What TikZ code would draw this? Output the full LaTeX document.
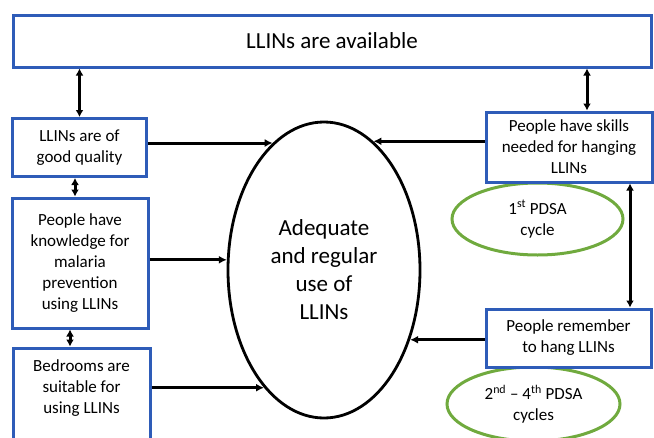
\documentclass[tikz,border=0pt]{standalone}
\usepackage{fontspec}
\setmainfont{Carlito}
\usetikzlibrary{arrows.meta,shapes.geometric}
\definecolor{boxblue}{RGB}{46,92,184}
\definecolor{pdsagreen}{RGB}{112,170,62}
\begin{document}
\begin{tikzpicture}[x=1pt,y=-1pt]
        \tikzstyle{box}=[draw=boxblue,line width=3pt,fill=white,align=center,inner sep=0pt,font=\fontsize{17}{21}\selectfont]
        \tikzstyle{boxtext}=[align=center,inner sep=0pt,font=\fontsize{17}{21}\selectfont]
        \tikzstyle{pdsa}=[ellipse,draw=pdsagreen,line width=3pt,align=center,inner sep=0pt,font=\fontsize{17}{21}\selectfont]
        \tikzstyle{arr}=[draw,line width=3pt,-{Latex[length=8pt,width=8pt]}]
        \tikzstyle{darr}=[draw,line width=3pt,{Latex[length=7pt,width=8pt]}-{Latex[length=7pt,width=8pt]}]
        \useasboundingbox (0,0) rectangle (654,437);
        \clip (0,0) rectangle (654,437);
        \begin{scope}
         \node [box,minimum width=638pt,minimum height=52pt,font=\fontsize{23}{28}\selectfont] (avail) at (332,41) {LLINs are available};

         \node [box,minimum width=134pt,minimum height=58pt] (quality) at (79.5,147.5) {LLINs are of\\good quality};
         \node [box,minimum width=136pt,minimum height=130pt] (knowledge) at (80,263) {People have\\knowledge for\\malaria\\prevention\\using LLINs};
         \node [box,minimum width=137pt,minimum height=112pt] (bedroom) at (81.5,404) {};
         \node [boxtext] (bedtext) at (81.5,388) {Bedrooms are\\suitable for\\using LLINs};

         \node [ellipse,draw,line width=2.8pt,minimum width=192pt,minimum height=296pt,inner sep=0pt,align=center,font=\fontsize{23}{28}\selectfont] (adeq) at (324,270) {Adequate\\and regular\\use of\\LLINs};

         \node [pdsa,minimum width=171pt,minimum height=72pt] (cyc1) at (537.5,219) {1\textsuperscript{st} PDSA\\cycle};
         \node [pdsa,minimum width=173pt,minimum height=74pt] (cyc2) at (533.5,404) {2\textsuperscript{nd} -- 4\textsuperscript{th} PDSA\\cycles};

         \node [box,minimum width=166pt,minimum height=70pt] (skills) at (569,147) {People have skills\\needed for hanging\\LLINs};
         \node [box,minimum width=165pt,minimum height=58pt] (remember) at (568.5,338) {People remember\\to hang LLINs};

         \path[darr] (avail.south -| quality.north) to (quality.north);
         \path[darr] ([xshift=18pt]skills.north |- avail.south) to ([xshift=18pt]skills.north);
         \path[darr] ([xshift=-4.5pt]quality.south) to ([xshift=-4.5pt]quality.south |- knowledge.north);
         \path[darr] ([xshift=-10pt]knowledge.south) to ([xshift=-10pt]knowledge.south |- bedroom.north);
         \path[darr] ([xshift=61pt]skills.south) to ([xshift=61pt]skills.south |- remember.north);

         \path[arr] (adeq.112 -| quality.east) to (adeq.112);
         \path[arr] (adeq.174 -| knowledge.east) to (adeq.174);
         \path[arr] (adeq.243 -| bedroom.east) to (adeq.243);
         \path[arr] (adeq.69 -| skills.west) to (adeq.69);
         \path[arr] (adeq.-39 -| remember.west) to (adeq.-39);
        \end{scope}
\end{tikzpicture}
\end{document}
